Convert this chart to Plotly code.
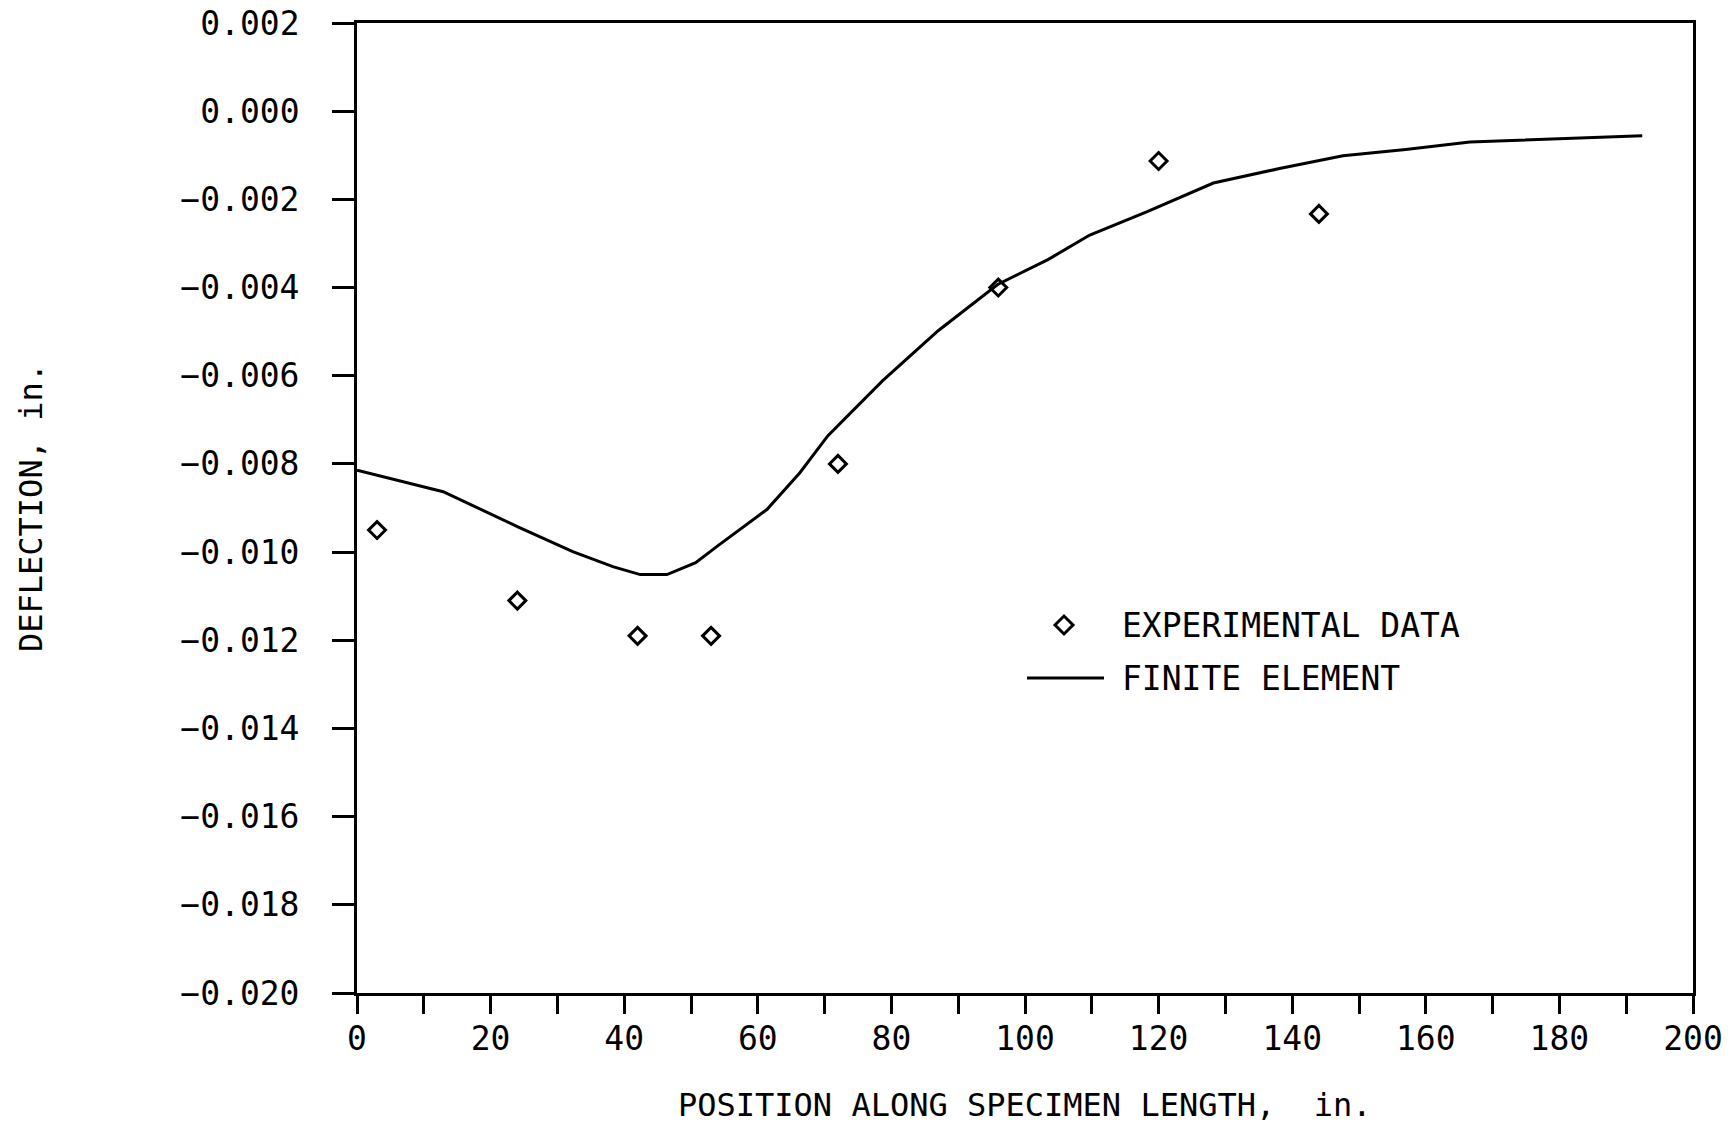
import plotly.graph_objects as go

# ---- data ----
exp_x = [3, 24, 42, 53, 72, 96, 120, 144]
exp_y = [-0.0095, -0.0111, -0.0119, -0.0119, -0.0080, -0.0040, -0.00113, -0.00233]

fe_x = [0, 12.9, 24, 32.3, 38.3, 42.4, 46.4, 50.7, 53.9, 61.4, 66.3, 70.5, 78.7, 87,
        95.9, 103.5, 109.7, 118.3, 128.2, 138.1, 147.6, 157, 166.6, 177.7, 192.4]
fe_y = [-0.00814, -0.00863, -0.00942, -0.00999, -0.01033, -0.01051, -0.01051, -0.01024,
        -0.00987, -0.00903, -0.00820, -0.00736, -0.00611, -0.00498, -0.00393, -0.00336,
        -0.00281, -0.00228, -0.00163, -0.00130, -0.00101, -0.00087, -0.00070, -0.00064,
        -0.00056]

x_tickvals = list(range(0, 201, 10))
x_ticktext = [str(v) if v % 20 == 0 else "" for v in x_tickvals]
y_tickvals = [0.002, 0.000, -0.002, -0.004, -0.006, -0.008, -0.010, -0.012, -0.014,
              -0.016, -0.018, -0.020]
y_ticktext = ["0.002", "0.000", "\u22120.002", "\u22120.004", "\u22120.006", "\u22120.008",
              "\u22120.010", "\u22120.012", "\u22120.014", "\u22120.016", "\u22120.018",
              "\u22120.020"]

x_title = "POSITION ALONG SPECIMEN LENGTH,  in."
y_title = "DEFLECTION, in."
legend_names = ["EXPERIMENTAL DATA", "FINITE ELEMENT"]

FONT = "DejaVu Sans Mono"
FS = 33
FS_TITLE = 32

fig = go.Figure()
fig.add_trace(go.Scatter(x=fe_x, y=fe_y, mode="lines", name=legend_names[1],
                         line=dict(color="black", width=3), showlegend=False))
fig.add_trace(go.Scatter(x=exp_x, y=exp_y, mode="markers", name=legend_names[0],
                         marker=dict(symbol="diamond-open", size=13, color="black",
                                     line=dict(color="black", width=3)),
                         showlegend=False))

W, H = 1728, 1125
L, R, T, B = 357, 35, 23, 132
pw, ph = W - L - R, H - T - B

def px(xp):
    return (xp - L) / pw

def py(yp):
    return (H - B - yp) / ph

axis_common = dict(showgrid=False, zeroline=False, showline=True, linecolor="black",
                   linewidth=2.8, mirror=True, ticks="outside", tickcolor="black",
                   tickwidth=2.6, automargin=False,
                   tickfont=dict(family=FONT, size=FS, color="black"))

fig.update_xaxes(range=[0, 200], tickmode="array", tickvals=x_tickvals,
                 ticktext=x_ticktext, ticklen=18, ticklabelstandoff=-4, **axis_common)
fig.update_yaxes(range=[-0.020, 0.002], tickmode="array", tickvals=y_tickvals,
                 ticktext=y_ticktext, ticklen=22, ticklabelstandoff=26, **axis_common)

annotations = [
    dict(text=x_title, x=0.5, y=py(1105), xref="paper", yref="paper",
         xanchor="center", yanchor="middle", showarrow=False,
         font=dict(family=FONT, size=FS_TITLE, color="black")),
    dict(text=y_title, x=px(31), y=0.5, xref="paper", yref="paper", textangle=-90,
         xanchor="center", yanchor="middle", showarrow=False,
         font=dict(family=FONT, size=FS_TITLE, color="black")),
    dict(text=legend_names[0], x=px(1120), y=py(625), xref="paper", yref="paper",
         xanchor="left", yanchor="middle", showarrow=False,
         font=dict(family=FONT, size=FS, color="black")),
    dict(text=legend_names[1], x=px(1120), y=py(678), xref="paper", yref="paper",
         xanchor="left", yanchor="middle", showarrow=False,
         font=dict(family=FONT, size=FS, color="black")),
]

cx, cy, hw = 1064, 625, 9
diamond = "M {} {} L {} {} L {} {} L {} {} Z".format(
    px(cx - hw), py(cy), px(cx), py(cy - hw), px(cx + hw), py(cy), px(cx), py(cy + hw))
shapes = [
    dict(type="path", path=diamond, xref="paper", yref="paper",
         line=dict(color="black", width=3)),
    dict(type="line", x0=px(1027), x1=px(1104), y0=py(678), y1=py(678),
         xref="paper", yref="paper", line=dict(color="black", width=3)),
]

fig.update_layout(width=W, height=H, margin=dict(l=L, r=R, t=T, b=B, autoexpand=False),
                  plot_bgcolor="white", paper_bgcolor="white",
                  annotations=annotations, shapes=shapes, showlegend=False)

fig.write_html("out.html")
